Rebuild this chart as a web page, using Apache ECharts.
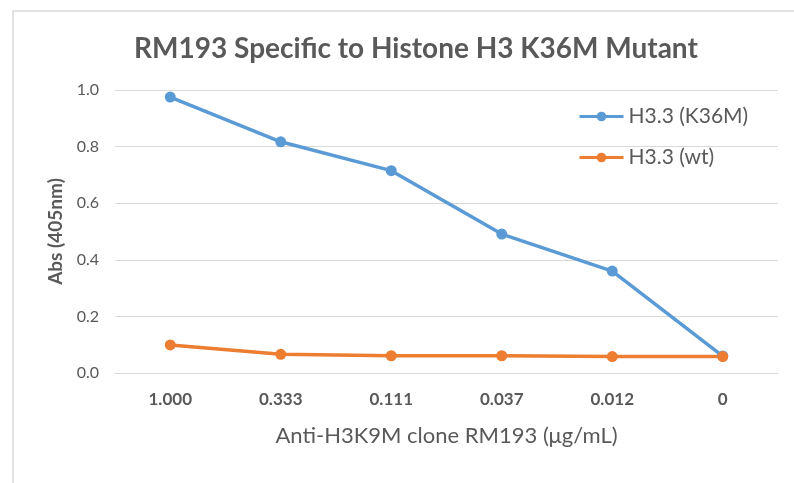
<!DOCTYPE html>
<html>
<head>
<meta charset="utf-8">
<script src="https://cdn.jsdelivr.net/npm/echarts@6/dist/echarts.min.js"></script>
<style>
  html, body { margin: 0; padding: 0; background: #fff; }
  #main { width: 794px; height: 483px; }
</style>
</head>
<body>
<div id="main"></div>
<script>
const concentrations = ['1.000', '0.333', '0.111', '0.037', '0.012', '0'];
const k36mValues = [0.975, 0.817, 0.715, 0.491, 0.360, 0.060];
const wtValues = [0.099, 0.066, 0.061, 0.061, 0.058, 0.058];
const yTicks = [0, 0.2, 0.4, 0.6, 0.8, 1.0];

const FONT = 'Lato';
const TXT = '#595959';

let chart = echarts.init(document.getElementById('main'));

let opt = {
    backgroundColor: '#fff',
    animation: false,
    textStyle: { fontFamily: FONT },
    title: {
        text: 'RM193 Specific to Histone H3 K36M Mutant',
        left: 411,
        top: 30,
        textAlign: 'center',
        textStyle: { fontFamily: FONT, fontSize: 28, fontWeight: 'bold', color: TXT }
    },
    legend: {
        orient: 'vertical',
        left: 573,
        top: 101,
        itemWidth: 44,
        itemHeight: 12,
        itemGap: 20,
        lineStyle: { width: 3 },
        textStyle: { fontFamily: FONT, fontSize: 21, color: TXT },
        data: ['H3.3 (K36M)', 'H3.3 (wt)']
    },
    grid: { left: 115, right: 16, top: 90, bottom: 110 },
    xAxis: {
        type: 'category',
        data: concentrations,
        boundaryGap: true,
        axisLine: { lineStyle: { color: '#d9d9d9', width: 1 } },
        axisTick: { show: false },
        axisLabel: { color: TXT, fontSize: 17, fontWeight: 'bold', margin: 18 },
        name: 'Anti-H3K9M clone RM193 (\u03bcg/mL)',
        nameLocation: 'middle',
        nameGap: 52,
        nameTextStyle: { color: TXT, fontSize: 22, fontFamily: FONT }
    },
    yAxis: {
        type: 'value',
        min: yTicks[0],
        max: yTicks[yTicks.length - 1],
        interval: 0.2,
        axisLine: { show: false },
        axisTick: { show: false },
        splitLine: { lineStyle: { color: '#d9d9d9', width: 1 } },
        axisLabel: {
            color: TXT, fontSize: 16, margin: 16,
            formatter: v => v.toFixed(1)
        },
        name: 'Abs (405nm)',
        nameLocation: 'middle',
        nameGap: 48,
        nameTextStyle: { color: TXT, fontSize: 19, fontWeight: 'bold', fontFamily: FONT }
    },
    series: [
        {
            name: 'H3.3 (K36M)',
            type: 'line',
            data: k36mValues,
            symbol: 'circle',
            symbolSize: 11,
            lineStyle: { width: 3.5, color: '#5B9BD5' },
            itemStyle: { color: '#5B9BD5' }
        },
        {
            name: 'H3.3 (wt)',
            type: 'line',
            data: wtValues,
            symbol: 'circle',
            symbolSize: 11,
            lineStyle: { width: 3.5, color: '#ED7D31' },
            itemStyle: { color: '#ED7D31' }
        }
    ],
    graphic: [
        {
            type: 'polyline',
            shape: { points: [[13, 483], [13, 11], [794, 11]] },
            style: { stroke: '#d9d9d9', lineWidth: 1.5, fill: null },
            silent: true
        }
    ]
};

chart.setOption(opt);
</script>
</body>
</html>
